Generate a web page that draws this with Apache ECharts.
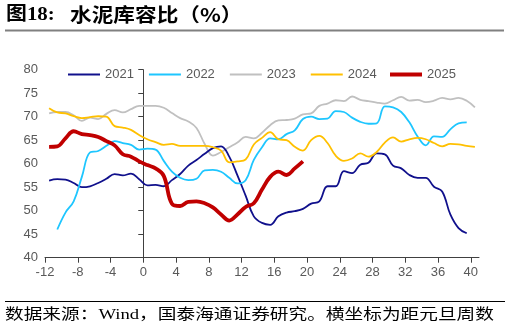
<!DOCTYPE html>
<html>
<head>
<meta charset="utf-8">
<script src="https://cdn.jsdelivr.net/npm/echarts@6/dist/echarts.min.js"></script>
<style>
html,body{margin:0;padding:0;background:#fff;}
#c{width:510px;height:329px;}
</style>
</head>
<body>
<div id="c"></div>
<script>
const weeks = [-11.5,-10.5,-9.5,-8.5,-7.5,-6.5,-5.5,-4.5,-3.5,-2.5,-1.5,-0.5,0.5,1.5,2.5,3.5,4.5,5.5,6.5,7.5,8.5,9.5,10.5,11.5,12.5,13.5,14.5,15.5,16.5,17.5,18.5,19.5,20.5,21.5,22.5,23.5,24.5,25.5,26.5,27.5,28.5,29.5,30.5,31.5,32.5,33.5,34.5,35.5,36.5,37.5,38.5,39.5,40.5];
const xTicks = [-12,-8,-4,0,4,8,12,16,20,24,28,32,36,40];
const seriesNames = ['2021','2022','2023','2024','2025'];

const y2021 = [56.4,56.7,56.6,55.9,55.0,55.2,55.9,56.8,57.8,57.5,57.9,56.7,55.4,55.5,55.2,56.5,57.8,59.6,60.8,62.1,63.3,63.7,61.5,57.5,53.2,48.8,47.4,47.0,48.8,49.6,49.9,50.4,51.5,52.0,55.2,55.2,58.4,58.0,59.8,60.2,62.2,62.0,59.6,59.0,57.6,57.0,57.0,55.1,54.1,49.2,46.3,45.2];
const y2022 = [null,46.0,49.6,52.0,57.2,62.4,62.7,63.8,64.8,64.4,64.0,63.0,63.2,63.0,60.6,58.3,57.0,56.5,56.8,58.6,58.7,58.3,57.0,55.8,56.5,60.8,63.5,65.4,65.2,66.3,67.1,69.5,70.0,69.5,69.6,71.2,71.0,69.8,68.9,68.5,68.6,72.2,72.0,71.0,68.8,65.8,63.9,65.8,65.7,67.3,68.6,68.8];
const y2023 = [70.7,71.0,71.0,70.3,69.1,69.8,69.5,70.6,71.4,70.9,71.6,72.3,72.3,72.3,71.9,70.8,69.7,69.0,67.6,64.2,61.7,62.5,63.5,64.5,65.7,65.4,66.6,68.2,69.2,69.3,69.6,70.5,70.7,72.3,72.8,73.5,73.3,74.3,73.6,73.3,73.0,72.8,73.5,74.2,73.4,73.6,73.1,73.4,74.0,73.7,74.0,73.4,72.0];
const y2024 = [71.8,70.9,70.7,70.1,69.7,69.9,70.1,70.0,68.0,67.7,67.2,66.1,65.2,64.6,64.0,64.2,63.8,63.8,63.8,63.8,63.5,62.8,60.3,60.5,60.9,64.1,65.5,66.7,65.2,65.0,63.6,62.8,65.0,65.9,64.4,61.7,60.6,61.1,62.2,61.5,62.5,64.5,65.6,64.7,65.2,65.5,65.2,64.4,63.7,64.2,64.1,63.8,63.6];
const y2025 = [63.6,63.7,65.4,66.9,66.3,66.1,65.7,64.8,63.9,62.0,61.5,60.5,59.7,59.0,57.4,51.5,51.0,51.9,52.0,51.6,50.7,49.2,47.9,49.2,50.8,51.6,54.5,57.2,58.3,57.6,59.0,60.5];

const allValues = [y2021,y2022,y2023,y2024,y2025];
const colors = ['#10108C','#1EC6FF','#C0C0C0','#FFC000','#C00000'];
const widths = [1.8,1.8,1.8,1.8,3.8];

function pairs(vals){
  const out=[];
  for(let i=0;i<vals.length;i++){ if(vals[i]!==null) out.push([weeks[i], vals[i]]); }
  return out;
}

const chart = echarts.init(document.getElementById('c'), null, {renderer:'canvas'});
const series = seriesNames.map((n,i)=>({
  name:n, type:'line', data:pairs(allValues[i]), smooth:0.4, symbol:'none', showSymbol:false,
  lineStyle:{color:colors[i], width:widths[i]}, itemStyle:{color:colors[i]},
  z: i===4?10:(i===2?1:2), animation:false
}));

const legendText = {fontFamily:'Liberation Sans, Arial, sans-serif', fontSize:13, color:'#595959'};

chart.setOption({
  animation:false,
  backgroundColor:'#fff',
  grid:{left:45, right:31, top:69.7, bottom:71.3, containLabel:false},
  legend:[
    {data:seriesNames.slice(0,4), left:63, top:63, icon:'rect', itemWidth:32, itemHeight:2, itemGap:15, textStyle:legendText},
    {data:seriesNames.slice(4), left:385, top:63, icon:'rect', itemWidth:32, itemHeight:4, itemGap:15, textStyle:legendText}
  ],
  xAxis:{
    type:'value', min:-12, max:41, interval:4,
    axisLine:{show:true, lineStyle:{color:'#404040', width:1}},
    axisTick:{show:true, length:5, inside:false, lineStyle:{color:'#404040'}, customValues:xTicks},
    axisLabel:{customValues:xTicks, margin:8, fontFamily:'Liberation Sans, Arial, sans-serif', fontSize:13, color:'#595959'},
    splitLine:{show:false}
  },
  yAxis:{
    type:'value', min:40, max:80, interval:5,
    axisLine:{show:true, lineStyle:{color:'#404040', width:1}},
    axisTick:{show:true, length:5, inside:false, lineStyle:{color:'#404040'}},
    axisLabel:{margin:7, fontFamily:'Liberation Sans, Arial, sans-serif', fontSize:13, color:'#595959'},
    splitLine:{show:false}
  },
  graphic:[
    {type:'text', x:6, y:6, scaleX:1.1, style:{text:'图18:', font:'bold 19px "Liberation Serif", "Noto Sans CJK SC", serif', fill:'#000', verticalAlign:'top'}},
    {type:'text', x:70, y:5, scaleX:1.14, style:{text:'水泥库容比（%）', font:'bold 19px "Noto Sans CJK SC", sans-serif', fill:'#000', verticalAlign:'top'}},
    {type:'rect', shape:{x:5, y:29.5, width:499, height:2}, style:{fill:'#808080'}},
    {type:'rect', shape:{x:5, y:301, width:500, height:1}, style:{fill:'#000'}},
    {type:'text', x:5, y:308, scaleX:1.245, style:{text:'数据来源：Wind，国泰海通证券研究。横坐标为距元旦周数', font:'15px "Liberation Serif", "Noto Sans CJK SC", serif', fill:'#000', verticalAlign:'top'}}
  ],
  series:series
});
</script>
</body>
</html>
